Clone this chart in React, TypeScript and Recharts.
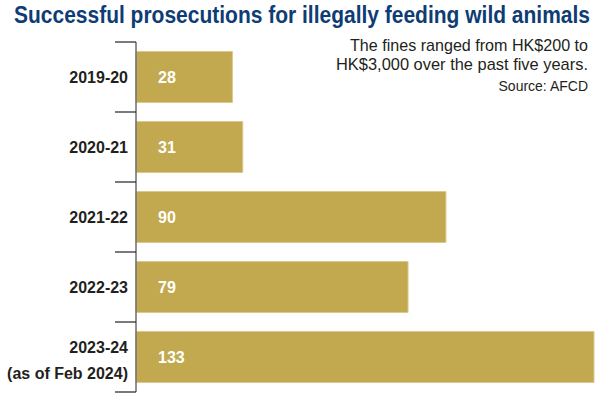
import React from "react";
import { BarChart, Bar, XAxis, YAxis, LabelList } from "recharts";

const categories = ["2019-20", "2020-21", "2021-22", "2022-23", "2023-24"];
const categoryNotes = ["", "", "", "", "(as of Feb 2024)"];
const prosecutions = [28, 31, 90, 79, 133];

const data = categories.map((c, i) => ({ year: c, note: categoryNotes[i], value: prosecutions[i] }));

const title = "Successful prosecutions for illegally feeding wild animals";
const noteLines = ["The fines ranged from HK$200 to", "HK$3,000 over the past five years."];
const source = "Source: AFCD";

const BAND = 70;

const YTick = (props: any) => {
  const { x, y, payload, index } = props;
  const note = categoryNotes[index];
  const axisX = x + 8;
  return (
    <g>
      <line x1={axisX - 21} x2={axisX} y1={y - BAND / 2} y2={y - BAND / 2} stroke="#222" strokeWidth={1.2} />
      {index === categories.length - 1 && (
        <line x1={axisX - 21} x2={axisX} y1={y + BAND / 2} y2={y + BAND / 2} stroke="#222" strokeWidth={1.2} />
      )}
      {note ? (
        <g>
          <text x={x} y={y - 10} textAnchor="end" dominantBaseline="central" fontSize={16} fontWeight="bold" fill="#231f20" fontFamily="Liberation Sans, Arial, sans-serif">{payload.value}</text>
          <text x={x} y={y + 16} textAnchor="end" dominantBaseline="central" fontSize={16} fontWeight="bold" fill="#231f20" fontFamily="Liberation Sans, Arial, sans-serif">{note}</text>
        </g>
      ) : (
        <text x={x} y={y} textAnchor="end" dominantBaseline="central" fontSize={16} fontWeight="bold" fill="#231f20" fontFamily="Liberation Sans, Arial, sans-serif">{payload.value}</text>
      )}
    </g>
  );
};

const ValueLabel = (props: any) => {
  const { x, y, height, value } = props;
  return (
    <text x={x + 22} y={y + height / 2} dominantBaseline="central" fontSize={16} fontWeight="bold" fill="#ffffff" fontFamily="Liberation Sans, Arial, sans-serif">{value}</text>
  );
};

export default function App() {
  return (
    <div style={{ position: "absolute", left: 0, top: 0, width: 600, height: 397, background: "#fff" }}>
      <svg width={600} height={397} style={{ position: "absolute", left: 0, top: 0 }}>
        <text x={14} y={23} fontSize={23} fontWeight="bold" fill="#0e3c74" fontFamily="Liberation Sans, Arial, sans-serif" textLength={576} lengthAdjust="spacingAndGlyphs">{title}</text>
        <text x={588} y={51} textAnchor="end" fontSize={17} fill="#231f20" fontFamily="Liberation Sans, Arial, sans-serif" textLength={238} lengthAdjust="spacingAndGlyphs">{noteLines[0]}</text>
        <text x={588} y={70} textAnchor="end" fontSize={17} fill="#231f20" fontFamily="Liberation Sans, Arial, sans-serif" textLength={252} lengthAdjust="spacingAndGlyphs">{noteLines[1]}</text>
        <text x={588} y={91} textAnchor="end" fontSize={14} fill="#231f20" fontFamily="Liberation Sans, Arial, sans-serif">{source}</text>
      </svg>
      <div style={{ position: "absolute", left: 0, top: 0 }}>
        <BarChart width={600} height={397} data={data} layout="vertical" margin={{ top: 42, right: 6, bottom: 5, left: 0 }} barCategoryGap={9.5}>
          <XAxis type="number" domain={[0, 133]} hide />
          <YAxis type="category" dataKey="year" width={136} tickLine={false} tickSize={0} tickMargin={8} axisLine={{ stroke: "#6d6d6d", strokeWidth: 1.5 }} tick={<YTick />} interval={0} />
          <Bar dataKey="value" fill="#c2a94f" stroke="#d9c98a" strokeWidth={1} isAnimationActive={false}>
            <LabelList dataKey="value" content={<ValueLabel />} />
          </Bar>
        </BarChart>
      </div>
    </div>
  );
}
